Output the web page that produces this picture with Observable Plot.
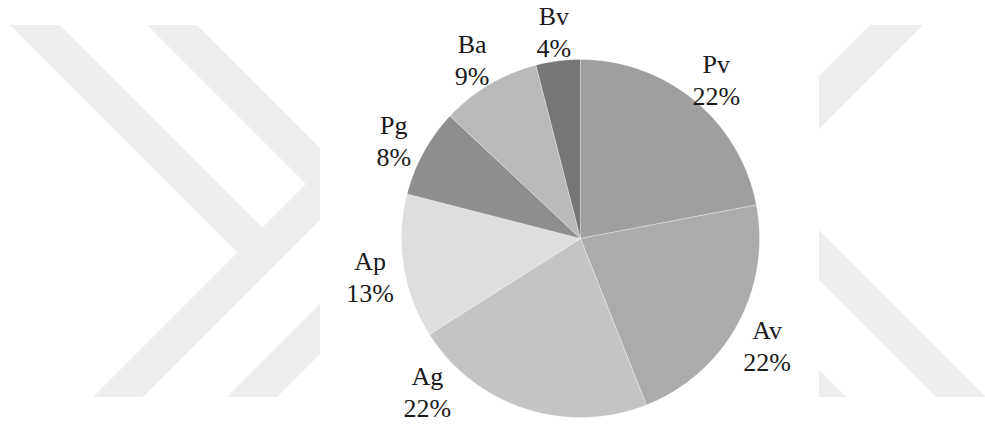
<!DOCTYPE html>
<html>
<head>
<meta charset="utf-8">
<script src="https://cdn.jsdelivr.net/npm/d3@7"></script>
<script src="https://cdn.jsdelivr.net/npm/@observablehq/plot@0.6"></script>
<style>
  html, body { margin: 0; padding: 0; background: #ffffff; }
  #chart { position: relative; width: 985px; height: 426px; overflow: hidden; }
  #chart > svg { position: absolute; left: 0; top: 0; }
</style>
</head>
<body>
<div id="chart"></div>
<script>
// Share of each group, in percent, clockwise from 12 o'clock
const categories = ["Pv", "Av", "Ag", "Ap", "Pg", "Ba", "Bv"];
const shares = [22, 22, 22, 13, 8, 9, 4];
const sliceColors = ["#9f9f9f", "#ababab", "#c4c4c4", "#dedede", "#8e8e8e", "#b9b9b9", "#767676"];

const W = 985, H = 426;
const cx = 580, cy = 238, R = 179;   // pie centre and radius in pixels
const serif = '"Liberation Serif", Tinos, "Times New Roman", Times, "DejaVu Serif", "Noto Serif", serif';

// Background emblem: light grey diagonal bands on both sides
const wm = d3.create("svg").attr("width", W).attr("height", H);
const defs = wm.append("defs");
defs.append("clipPath").attr("id", "wm-left")
  .append("rect").attr("x", 0).attr("y", 25).attr("width", 320).attr("height", 372);
defs.append("clipPath").attr("id", "wm-right")
  .append("rect").attr("x", 819).attr("y", 25).attr("width", 166).attr("height", 372);
const leftBands = [
  [[-20, -5], [30, -5], [287.5, 252.5], [237.5, 252.5]],
  [[117, -5], [167, -5], [340, 168], [340, 218]],
  [[70, 420], [120, 420], [340, 200], [340, 150]],
  [[204, 420], [254, 420], [340, 334], [340, 284]]
];
const rightBands = [
  [[900, -5], [953, -5], [800, 148], [800, 95]],
  [[800, 211], [800, 261], [959, 420], [1009, 420]],
  [[800, 351], [800, 401], [819, 420], [869, 420]]
];
wm.append("g").attr("clip-path", "url(#wm-left)").attr("fill", "#eeeeee")
  .selectAll("polygon").data(leftBands).join("polygon")
  .attr("points", d => d.map(p => p.join(",")).join(" "));
wm.append("g").attr("clip-path", "url(#wm-right)").attr("fill", "#eeeeee")
  .selectAll("polygon").data(rightBands).join("polygon")
  .attr("points", d => d.map(p => p.join(",")).join(" "));

// Pie geometry: angles clockwise from the top, in the unit circle
const arcs = d3.pie().sort(null).value(d => d.share)(
  categories.map((name, i) => ({name, share: shares[i]}))
);

const slicePts = [];
for (const a of arcs) {
  const name = a.data.name;
  const n = Math.max(2, Math.ceil((a.endAngle - a.startAngle) / 0.004));
  slicePts.push({name, x: 0, y: 0});
  for (let k = 0; k <= n; k++) {
    const t = a.startAngle + (a.endAngle - a.startAngle) * k / n;
    slicePts.push({name, x: Math.sin(t), y: Math.cos(t)});
  }
  slicePts.push({name, x: 0, y: 0});
}

// Labels sit outside each slice; a label that would fall off the bottom
// slides along its circle until it fits.
const labelR = 1.19;
const lowestY = (cy - (H - 40)) / R;
const labels = arcs.map(a => {
  let t = (a.startAngle + a.endAngle) / 2;
  if (labelR * Math.cos(t) < lowestY) {
    const c = Math.acos(lowestY / labelR);
    t = t > Math.PI ? 2 * Math.PI - c : c;
  }
  return {
    text: `${a.data.name}\n${a.data.share}%`,
    x: labelR * Math.sin(t),
    y: labelR * Math.cos(t)
  };
});

const chart = Plot.plot({
  width: W,
  height: H,
  margin: 0,
  style: {background: "transparent", overflow: "visible", fontFamily: serif},
  x: {domain: [-cx / R, (W - cx) / R], range: [0, W], axis: null},
  y: {domain: [-(H - cy) / R, cy / R], range: [H, 0], axis: null},
  color: {domain: categories, range: sliceColors},
  marks: [
    Plot.line(slicePts, {
      x: "x", y: "y", z: "name", fill: "name",
      stroke: "#ffffff", strokeOpacity: 0.3, strokeWidth: 1, strokeLinejoin: "round"
    }),
    Plot.text(labels, {
      x: "x", y: "y", text: "text", dy: 4,
      fontFamily: serif,
      fontSize: 26, lineHeight: 1.23, fill: "#1a1a1a", textAnchor: "middle"
    })
  ]
});

// make sure every label uses the serif face
d3.select(chart).selectAll("text, tspan").style("font-family", serif);

const host = document.getElementById("chart");
host.appendChild(wm.node());
host.appendChild(chart);
</script>
</body>
</html>
